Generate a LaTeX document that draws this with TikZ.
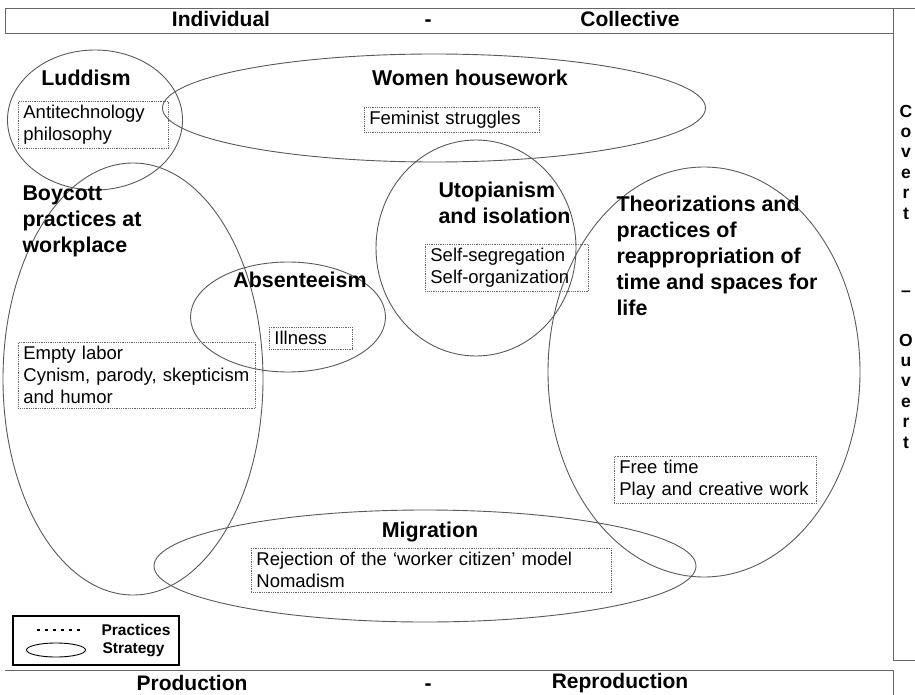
\documentclass[tikz,border=0pt]{standalone}
\usepackage{fontspec}
\setmainfont{Liberation Sans}
\usetikzlibrary{shapes.geometric}
\begin{document}
\begin{tikzpicture}[x=1pt,y=-1pt,
  frame/.style={draw=black!60, line width=0.9pt},
  strategy/.style={ellipse, draw=black!65, line width=0.9pt, inner sep=0pt},
  practice/.style={draw=black!60, densely dotted, line width=0.8pt, anchor=north west, align=left, inner xsep=5pt, inner ysep=4pt, font=\fontsize{18.5}{22}\selectfont},
  title/.style={font=\fontsize{21.4}{26}\selectfont\bfseries, align=center},
  bar/.style={font=\fontsize{21}{24}\selectfont\bfseries},
  side/.style={font=\fontsize{17.5}{20.4}\selectfont\bfseries, align=center},
  legendtxt/.style={font=\fontsize{15.5}{18}\selectfont\bfseries, anchor=west}]
\useasboundingbox (0,0) rectangle (915,695);
% frame
\draw[frame] (5,8) -- (915,8);
\draw[frame] (5,8) -- (5,33) -- (893,33);
\draw[frame] (893,8) -- (893,660) -- (915,660);
\draw[frame] (5,670) -- (893,670) -- (893,695);
\node[bar] (indiv) at (221,19) {Individual};
\node[bar] (dashtop) at (428,23) {-};
\node[bar] (collect) at (630,19) {Collective};
\node[bar] (prod) at (192,683) {Production};
\node[bar] (dashbot) at (428,687) {-};
\node[bar] (reprod) at (620,683) {Reproduction};
\node[side] (covert) at (906,162) {C\\o\\v\\e\\r\\t};
\node[side] (dashside) at (906,294) {--};
\node[side] (ouvert) at (906,391) {O\\u\\v\\e\\r\\t};
% strategies
\node[strategy, minimum width=175, minimum height=140] (luddism) at (95,120) {};
\node[strategy, minimum width=543, minimum height=108] (women) at (434,108) {};
\node[strategy, minimum width=260, minimum height=432] (boycott) at (133,379) {};
\node[strategy, minimum width=195, minimum height=110] (absent) at (288,317) {};
\node[strategy, minimum width=200, minimum height=216] (utopia) at (476,248) {};
\node[strategy, minimum width=312, minimum height=410] (theory) at (704,372) {};
\node[strategy, minimum width=542, minimum height=112] (migration) at (425,566) {};
% titles
\node[title] (luddismT) at (86,78) {Luddism};
\node[title] (womenT) at (470,78) {Women housework};
\node[title, align=left, anchor=north west] (utopiaT) at (435,178) {Utopianism\\and isolation};
\node[title, align=left, anchor=north west] (boycottT) at (19,182) {Boycott\\practices at\\workplace};
\node[title] (absentT) at (300,280) {Absenteeism};
\node[title, align=left, anchor=north west] (theoryT) at (613,192) {Theorizations and\\practices of\\reappropriation of\\time and spaces for\\life};
\node[title] (migrationT) at (430,532) {Migration};
% practices
\node[practice, text width=140pt] (luddismP) at (18,101) {Antitechnology\\philosophy};
\node[practice, text width=165pt] (womenP) at (364,107) {Feminist struggles};
\node[practice, text width=153pt] (utopiaP) at (425,244) {Self-segregation\\Self-organization};
\node[practice, text width=73pt] (absentP) at (269,327) {Illness};
\node[practice, text width=227pt] (boycottP) at (18,342) {Empty labor\\Cynism, parody, skepticism\\and humor};
\node[practice, text width=192pt] (theoryP) at (614,456) {Free time\\Play and creative work};
\node[practice, text width=350pt] (migrationP) at (251,548) {Rejection of the ‘worker citizen’ model\\Nomadism};
% legend
\node[draw, line width=1.6pt, anchor=north west, minimum width=166, minimum height=49, inner sep=0pt] (legend) at (12,615) {};
\coordinate (dotA) at (37,630);
\coordinate (dotB) at (83,630);
\draw[line width=2.6pt, dash pattern=on 2.6pt off 5.4pt] (dotA) -- (dotB);
\node[ellipse, draw, line width=0.9pt, minimum width=59, minimum height=14, inner sep=0pt] (legendE) at (56,650) {};
\node[legendtxt] (practicesL) at (98,630) {Practices};
\node[legendtxt] (strategyL) at (99,650) {Strategy};
\end{tikzpicture}
\end{document}
